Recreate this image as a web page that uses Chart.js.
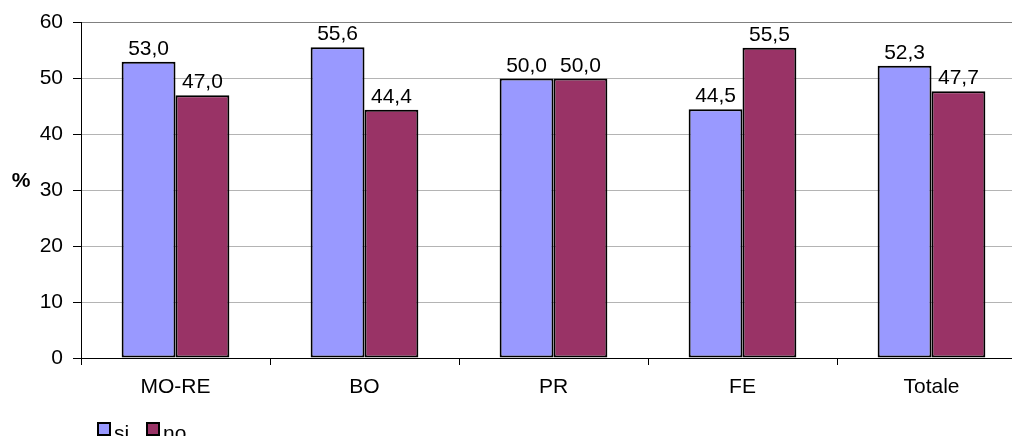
<!DOCTYPE html>
<html>
<head>
<meta charset="utf-8">
<script src="https://cdn.jsdelivr.net/npm/chart.js@4.4.1/dist/chart.umd.min.js"></script>
<style>
  html, body { margin: 0; padding: 0; background: #fff; overflow: hidden; }
  #wrap { position: relative; width: 1026px; height: 436px; }
</style>
</head>
<body>
<div id="wrap"><canvas id="chart"></canvas></div>
<script>
// Categories and series
const categories = ['MO-RE', 'BO', 'PR', 'FE', 'Totale'];
const siValues = [53.0, 55.6, 50.0, 44.5, 52.3];
const noValues = [47.0, 44.4, 50.0, 55.5, 47.7];
const seriesNames = ['si', 'no'];
const yTicks = [0, 10, 20, 30, 40, 50, 60];

const FONT = "'Liberation Sans', Arial, sans-serif";
const FONT_SIZE = 21;
const SI_COLOR = '#9999FF';
const NO_COLOR = '#993366';

const fmt = v => v.toFixed(1).replace('.', ',');

// Value labels above each bar
const valueLabels = {
  id: 'valueLabels',
  afterDatasetsDraw(chart) {
    const ctx = chart.ctx;
    ctx.save();
    ctx.font = FONT_SIZE + 'px ' + FONT;
    ctx.fillStyle = '#000';
    ctx.textAlign = 'center';
    ctx.textBaseline = 'alphabetic';
    chart.data.datasets.forEach((ds, i) => {
      const meta = chart.getDatasetMeta(i);
      meta.data.forEach((bar, j) => {
        ctx.fillText(fmt(ds.data[j]), bar.x, bar.y - 7);
      });
    });
    ctx.restore();
  }
};

// Horizontal "%" axis title and bottom legend
const extras = {
  id: 'extras',
  afterDraw(chart) {
    const ctx = chart.ctx;
    ctx.save();
    ctx.font = 'bold ' + FONT_SIZE + 'px ' + FONT;
    ctx.fillStyle = '#000';
    ctx.textAlign = 'center';
    ctx.textBaseline = 'middle';
    ctx.fillText('%', 21, 181);

    ctx.font = FONT_SIZE + 'px ' + FONT;
    ctx.textAlign = 'left';
    ctx.textBaseline = 'alphabetic';
    const items = [
      { x: 97, color: SI_COLOR, label: seriesNames[0] },
      { x: 146, color: NO_COLOR, label: seriesNames[1] }
    ];
    items.forEach(it => {
      ctx.fillStyle = it.color;
      ctx.fillRect(it.x, 422, 14, 14);
      ctx.strokeStyle = '#000';
      ctx.lineWidth = 2;
      ctx.strokeRect(it.x + 1, 423, 12, 12);
      ctx.fillStyle = '#000';
      ctx.fillText(it.label, it.x + 17, 440);
    });
    ctx.restore();
  }
};

new Chart(document.getElementById('chart'), {
  type: 'bar',
  data: {
    labels: categories,
    datasets: [
      { label: seriesNames[0], data: siValues, backgroundColor: SI_COLOR,
        borderColor: '#000', borderWidth: 2, borderSkipped: false },
      { label: seriesNames[1], data: noValues, backgroundColor: NO_COLOR,
        borderColor: '#000', borderWidth: 2, borderSkipped: false }
    ]
  },
  options: {
    responsive: true,
    maintainAspectRatio: false,
    animation: false,
    devicePixelRatio: 1,
    layout: { padding: { top: 22, right: 0, bottom: 0, left: 0 } },
    datasets: { bar: { categoryPercentage: 0.57, barPercentage: 1.0 } },
    plugins: {
      legend: { display: false },
      tooltip: { enabled: false }
    },
    scales: {
      x: {
        offset: true,
        grid: {
          offset: true,
          drawOnChartArea: false,
          drawTicks: true,
          tickLength: 7,
          tickColor: '#000'
        },
        border: { color: '#000', width: 1 },
        ticks: { color: '#000', font: { family: FONT, size: FONT_SIZE }, padding: 10, maxRotation: 0 },
        afterFit(scale) { scale.height = 78; }
      },
      y: {
        min: 0,
        max: 60,
        afterBuildTicks(scale) { scale.ticks = yTicks.map(v => ({ value: v })); },
        grid: {
          color: ctx => (ctx.tick && ctx.tick.value === 60) ? '#808080' : '#b4b4b4',
          lineWidth: 1,
          tickLength: 8,
          tickColor: '#000'
        },
        border: { color: '#000', width: 1 },
        ticks: { color: '#000', font: { family: FONT, size: FONT_SIZE }, padding: 10 },
        afterFit(scale) { scale.width = 81; }
      }
    }
  },
  plugins: [valueLabels, extras]
});
</script>
</body>
</html>
